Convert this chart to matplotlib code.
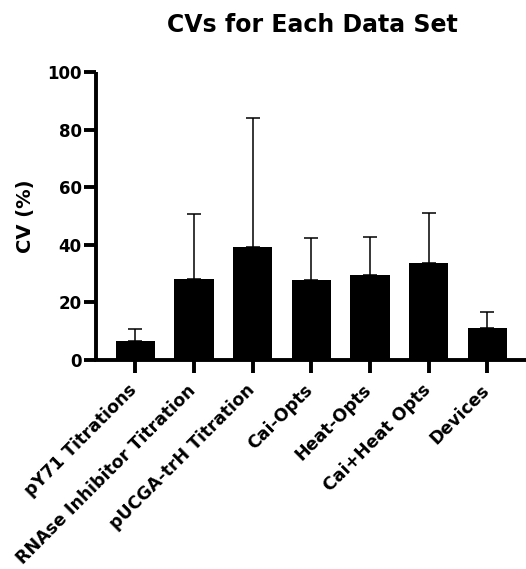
import numpy as np
import matplotlib
matplotlib.use("Agg")
import matplotlib.pyplot as plt
from matplotlib.transforms import ScaledTranslation

# CV per data set (mean) and upper error caps (SD)
categories = ["pY71 Titrations", "RNAse Inhibitor Titration", "pUCGA-trH Titration",
              "Cai-Opts", "Heat-Opts", "Cai+Heat Opts", "Devices"]
cv_mean = [6.6, 28.1, 39.3, 27.8, 29.6, 33.6, 11.0]
cv_upper = [10.7, 50.8, 84.1, 42.5, 42.8, 51.2, 16.7]
yticks = [0, 20, 40, 60, 80, 100]

cv_sd = [u - m for u, m in zip(cv_upper, cv_mean)]

plt.rcParams['font.family'] = 'DejaVu Sans'
plt.rcParams['font.weight'] = 'bold'

fig = plt.figure(figsize=(5.26, 5.69), dpi=100)
ax = fig.add_axes([0.1831, 0.3678, 0.8169, 0.5048])

x = np.arange(len(categories))
ax.bar(x, cv_mean, width=0.67, color='black', zorder=2)
# only the upper half of the error bar is visible
ax.errorbar(x, cv_mean, yerr=[np.zeros(len(x)), cv_sd], fmt='none',
            ecolor='black', elinewidth=1.1, capsize=5, capthick=1.1, zorder=1)

ax.set_xlim(-0.667, 6.66)
ax.set_ylim(0, 100)
ax.set_yticks(yticks)
ax.set_xticks(x)
ax.set_xticklabels(categories, rotation=45, ha='right', va='center',
                   rotation_mode='anchor', fontsize=12.5, fontweight='bold')
for lab in ax.get_yticklabels():
    lab.set_fontsize(12)
    lab.set_fontweight('bold')

for s in ['top', 'right']:
    ax.spines[s].set_visible(False)
for s in ['left', 'bottom']:
    ax.spines[s].set_linewidth(2.8)
ax.spines['left'].set_capstyle('butt')

ax.tick_params(axis='both', length=9, width=2.8, direction='out', color='black')
ax.tick_params(axis='y', pad=1.5)
ax.tick_params(axis='x', pad=11)

# nudge the rotated x labels to sit like the reference
offset = ScaledTranslation(-1 / 100, 0, fig.dpi_scale_trans)
for lab in ax.get_xticklabels():
    lab.set_transform(lab.get_transform() + offset)

ax.set_ylabel("CV (%)", fontsize=14, fontweight='bold', labelpad=9)
fig.text(0.593, 0.956, "CVs for Each Data Set", ha='center', va='center',
         fontsize=17, fontweight='bold')

fig.savefig("out.png", dpi=100)
